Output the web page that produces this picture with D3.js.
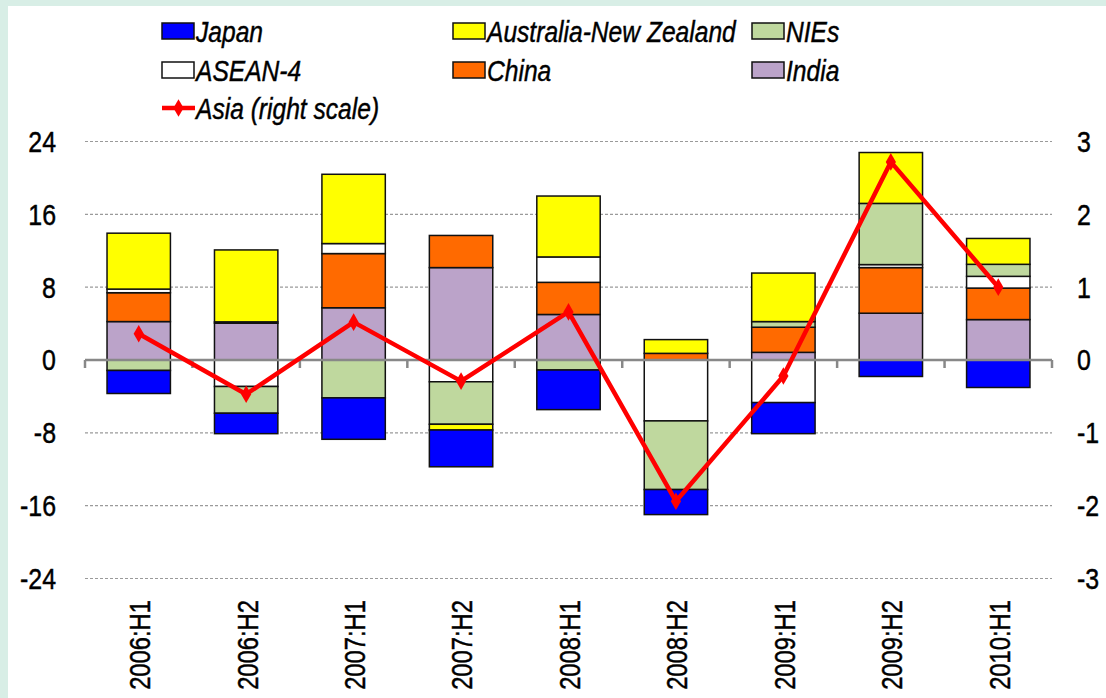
<!DOCTYPE html>
<html>
<head>
<meta charset="utf-8">
<script src="https://cdn.jsdelivr.net/npm/d3@7"></script>
<style>
  html, body { margin: 0; padding: 0; background: #d8eee6; }
  svg { display: block; }
  text { font-family: "Liberation Sans", Arial, sans-serif; fill: #000; stroke: #000; stroke-width: 0.45px; }
</style>
</head>
<body>
<svg id="chart" width="1106" height="698"></svg>
<script>
// Contributions by economy (left scale) and Asia total (right scale)
const categories = ['2006:H1', '2006:H2', '2007:H1', '2007:H2', '2008:H1', '2008:H2', '2009:H1', '2009:H2', '2010:H1'];

const india  = [4.22, 4.04, 5.74, 10.15, 5.0, 0, 0.84, 5.14, 4.44];
const china  = [3.17, 0.15, 5.95, 3.53, 3.53, 0.73, 2.76, 5.01, 3.46];
const asean4 = [0.4, -2.91, 1.1, -2.39, 2.79, -6.69, -4.68, 0.33, 1.29];
const nies   = [-1.15, -2.94, -4.16, -4.67, -1.1, -7.54, 0.62, 6.72, 1.32];
const anz    = [6.14, 7.9, 7.61, -0.63, 6.69, 1.51, 5.33, 5.59, 2.84];
const japan  = [-2.53, -2.24, -4.55, -4.04, -4.35, -2.75, -3.41, -1.81, -3.02];
const asia   = [0.36, -0.47, 0.52, -0.29, 0.66, -1.94, -0.22, 2.72, 1.0];

const leftTicks = [-24, -16, -8, 0, 8, 16, 24];
const rightTicks = [-3, -2, -1, 0, 1, 2, 3];

// stacking order (bottom-up for positives, top-down for negatives)
const series = [
    { key: 'India', values: india, color: '#bba3c9' },
    { key: 'China', values: china, color: '#ff6a00' },
    { key: 'ASEAN-4', values: asean4, color: '#ffffff' },
    { key: 'NIEs', values: nies, color: '#bfd89e' },
    { key: 'Australia-New Zealand', values: anz, color: '#ffff00' },
    { key: 'Japan', values: japan, color: '#0000ff' }
];
const colorOf = {};
series.forEach(s => colorOf[s.key] = s.color);

const svg = d3.select('#chart');

// white chart area over the mint frame
svg.append('rect').attr('x', 8).attr('y', 6).attr('width', 1098).attr('height', 692).attr('fill', '#fff');

const x = d3.scaleBand().domain(categories).range([85, 1052]).paddingInner(0.41).paddingOuter(0.205);
const y = d3.scaleLinear().domain([-24, 24]).range([578.5, 141.5]);
const yR = d3.scaleLinear().domain([-3, 3]).range([578.5, 141.5]);

// gridlines
svg.append('g').selectAll('line').data(leftTicks.filter(d => d !== 0)).join('line')
    .attr('x1', 85).attr('x2', 1052)
    .attr('y1', d => y(d)).attr('y2', d => y(d))
    .attr('stroke', '#9a9a9a').attr('stroke-width', 1.2).attr('stroke-dasharray', '3,2');

// stacked bars
const rows = categories.map((c, i) => {
    const r = { cat: c };
    series.forEach(s => r[s.key] = s.values[i]);
    return r;
});
const stacked = d3.stack().keys(series.map(s => s.key)).offset(d3.stackOffsetDiverging)(rows);

svg.append('g').selectAll('g').data(stacked).join('g')
    .attr('fill', d => colorOf[d.key])
    .selectAll('rect').data(d => d.filter(p => p[1] - p[0] !== 0)).join('rect')
    .attr('x', d => x(d.data.cat))
    .attr('width', x.bandwidth())
    .attr('y', d => y(Math.max(d[0], d[1])))
    .attr('height', d => Math.abs(y(d[0]) - y(d[1])))
    .attr('stroke', '#111').attr('stroke-width', 1.5);

// zero axis with tick marks between categories
svg.append('line').attr('x1', 85).attr('x2', 1052).attr('y1', y(0)).attr('y2', y(0))
    .attr('stroke', '#888').attr('stroke-width', 2.5);
const bounds = categories.map(c => x(c) - x.step() * x.paddingInner() / 2);
bounds.push(1052);
bounds[0] = 85;
svg.append('g').selectAll('line').data(bounds).join('line')
    .attr('x1', d => d).attr('x2', d => d)
    .attr('y1', y(0)).attr('y2', y(0) + 8)
    .attr('stroke', '#888').attr('stroke-width', 2.5);

// Asia line on right scale
const line = d3.line().x((d, i) => x(categories[i]) + x.bandwidth() / 2).y(d => yR(d));
svg.append('path').datum(asia).attr('d', line)
    .attr('fill', 'none').attr('stroke', '#ff0000').attr('stroke-width', 4.5).attr('stroke-linejoin', 'round');
const diamond = d3.symbol().type(d3.symbolDiamond).size(90);
svg.append('g').selectAll('path').data(asia).join('path')
    .attr('transform', (d, i) => `translate(${x(categories[i]) + x.bandwidth() / 2},${yR(d)})`)
    .attr('d', diamond)
    .attr('fill', '#ff0000');

// axis labels (condensed by horizontal scaling, no narrow font installed)
svg.append('g').selectAll('text').data(leftTicks).join('text')
    .attr('transform', d => `translate(56,${y(d)}) scale(0.86,1)`)
    .attr('dy', '0.36em')
    .attr('text-anchor', 'end').style('font-size', '29px')
    .text(d => d);
svg.append('g').selectAll('text').data(rightTicks).join('text')
    .attr('transform', d => `translate(1077,${yR(d)}) scale(0.86,1)`)
    .attr('dy', '0.36em')
    .attr('text-anchor', 'start').style('font-size', '29px')
    .text(d => d);
svg.append('g').selectAll('text').data(categories).join('text')
    .attr('transform', d => `translate(${x(d) + x.bandwidth() / 2 + 1},600) rotate(-90) scale(0.82,1)`)
    .attr('dy', '0.36em')
    .attr('text-anchor', 'end').style('font-size', '29px')
    .text(d => d);

// legend
const legendItems = [
    { key: 'Japan', lx: 162, ly: 31 },
    { key: 'Australia-New Zealand', lx: 453, ly: 31 },
    { key: 'NIEs', lx: 752, ly: 31 },
    { key: 'ASEAN-4', lx: 162, ly: 70 },
    { key: 'China', lx: 453, ly: 70 },
    { key: 'India', lx: 752, ly: 70 }
];
const legend = svg.append('g');
legendItems.forEach(item => {
    legend.append('rect')
        .attr('x', item.lx).attr('y', item.ly - 8).attr('width', 32).attr('height', 16)
        .attr('fill', colorOf[item.key]).attr('stroke', '#111').attr('stroke-width', 1.5);
    legend.append('text')
        .attr('transform', `translate(${item.lx + 34},${item.ly}) scale(0.82,1)`)
        .attr('dy', '0.36em')
        .style('font-size', '30px').style('font-style', 'italic')
        .text(item.key);
});
legend.append('line').attr('x1', 162).attr('x2', 195).attr('y1', 108).attr('y2', 108)
    .attr('stroke', '#ff0000').attr('stroke-width', 4.5);
legend.append('path').attr('transform', 'translate(178.5,108)').attr('d', diamond).attr('fill', '#ff0000');
legend.append('text')
    .attr('transform', 'translate(196,108) scale(0.82,1)')
    .attr('dy', '0.36em')
    .style('font-size', '30px').style('font-style', 'italic')
    .text('Asia (right scale)');
</script>
</body>
</html>
